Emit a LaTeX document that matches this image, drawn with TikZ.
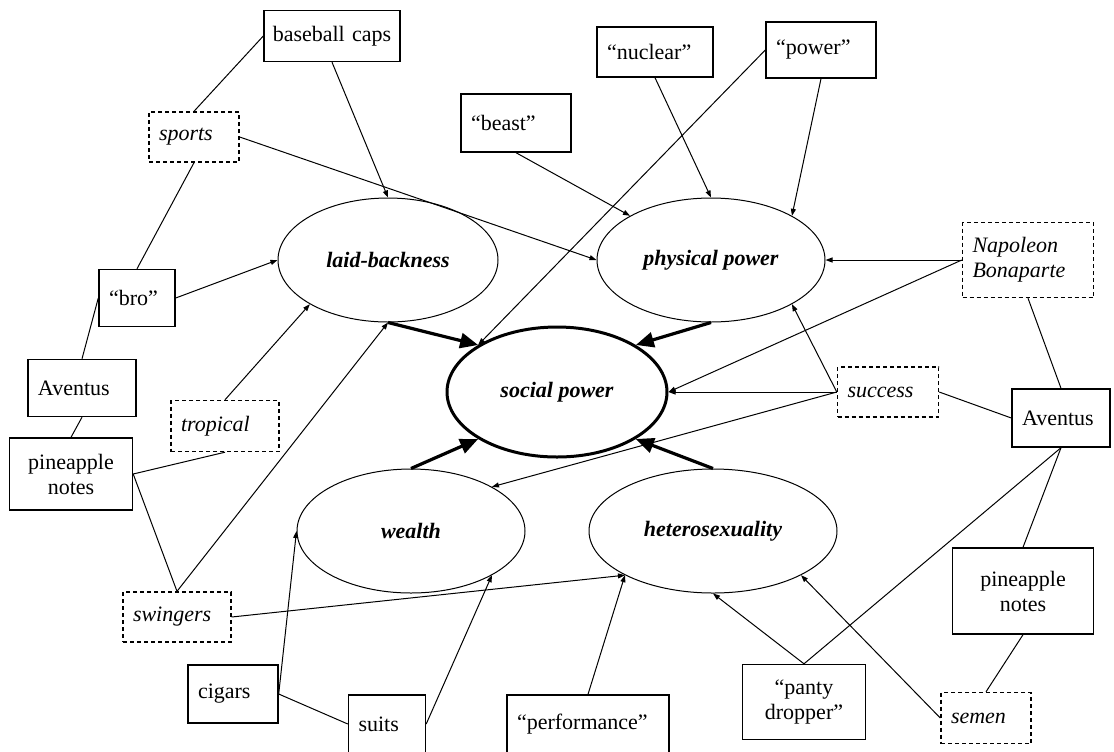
\documentclass[tikz,border=0pt]{standalone}
\usepackage{fontspec}
\setmainfont{Liberation Serif}
\usetikzlibrary{shapes.geometric,arrows.meta}
\begin{document}
\begin{tikzpicture}[x=0.5pt,y=-0.5pt,
  box/.style={draw,line width=0.7pt,inner xsep=5pt,inner ysep=0pt,align=left,font=\fontsize{11}{12.5}\selectfont},
  idea/.style={box,dash pattern=on 2pt off 1.5pt,font=\fontsize{11}{12.5}\selectfont\itshape},
  oval/.style={draw,ellipse,line width=0.5pt,inner sep=0pt,font=\fontsize{11}{13}\selectfont\bfseries\itshape},
  link/.style={line width=0.5pt},
  arr/.style={line width=0.5pt,-{Triangle[length=3.5pt,width=2.5pt]}},
  bigarr/.style={line width=1.6pt,-{Triangle[length=9pt,width=7.5pt]}}]
\useasboundingbox (0,0) rectangle (1114,751);
\node[oval,minimum width=110pt,minimum height=62pt] (laid) at (388,260) {laid-backness};
\node[oval,minimum width=114pt,minimum height=62pt] (phys) at (711,260) {physical power};
\node[oval,line width=1.5pt,minimum width=110pt,minimum height=65pt] (social) at (557,392) {social power};
\node[oval,minimum width=114pt,minimum height=62pt] (wealth) at (411,531) {wealth};
\node[oval,minimum width=124pt,minimum height=62pt] (hetero) at (713,531) {heterosexuality};
\node[box,align=center,inner xsep=2pt,text width=64pt,minimum height=25.5pt] (caps) at (332,36) {baseball caps};
\node[box,text width=48pt,minimum height=25pt] (nuclear) at (655,52) {“nuclear”};
\node[box,text width=45pt,minimum height=28pt] (powerw) at (821,50) {“power”};
\node[box,text width=45pt,minimum height=29pt] (beast) at (516,123) {“beast”};
\node[idea,text width=35pt,minimum height=25pt] (sports) at (194,137) {sports};
\node[idea,text width=55.5pt,minimum height=37.5pt] (napoleon) at (1028,260) {Napoleon\\Bonaparte};
\node[box,text width=28pt,minimum height=28.5pt] (bro) at (137,298) {“bro”};
\node[box,text width=44pt,minimum height=28.5pt] (aventusL) at (82,388) {Aventus};
\node[idea,text width=44pt,minimum height=25.5pt] (tropical) at (225,426) {tropical};
\node[box,align=center,text width=51.5pt,minimum height=36pt] (pineL) at (71,474) {pineapple\\notes};
\node[idea,text width=40.5pt,minimum height=25pt] (success) at (888,392) {success};
\node[box,text width=39pt,minimum height=29pt] (aventusR) at (1061,418) {Aventus};
\node[idea,text width=44pt,minimum height=25pt] (swingers) at (177,617) {swingers};
\node[box,align=center,text width=60.5pt,minimum height=43pt] (pineR) at (1023,591) {pineapple\\notes};
\node[box,text width=35pt,minimum height=29pt] (cigars) at (233,694) {cigars};
\node[box,text width=28.5pt,minimum height=29pt] (suits) at (387,724) {suits};
\node[box,text width=71pt,minimum height=29pt] (perf) at (588,724) {“performance”};
\node[box,align=center,text width=51.5pt,minimum height=37.5pt] (panty) at (804,702) {“panty\\dropper”};
\node[idea,text width=35pt,minimum height=25.5pt] (semen) at (986,718) {semen};
\draw[arr] (caps.south) -- (laid.north);
\draw[link] (caps.west) -- (sports.north);
\draw[link] (sports.south) -- (bro.north);
\draw[arr] (sports.east) -- (phys.west);
\draw[arr] (beast.south) -- (phys.north west);
\draw[arr] (nuclear.south) -- (phys.north);
\draw[arr] (powerw.south) -- (phys.north east);
\draw[arr] (powerw.west) -- (social.north west);
\draw[arr] (napoleon.west) -- (phys.east);
\draw[arr] (napoleon.west) -- (social.east);
\draw[link] (napoleon.south) -- (aventusR.north);
\draw[arr] (success.west) -- (phys.south east);
\draw[arr] (success.west) -- (social.east);
\draw[arr] (success.west) -- (wealth.north east);
\draw[link] (success.east) -- (aventusR.west);
\draw[link] (aventusR.south) -- (panty.north);
\draw[link] (aventusR.south) -- (pineR.north);
\draw[link] (pineR.south) -- (semen.north);
\draw[arr] (semen.west) -- (hetero.south east);
\draw[arr] (panty.north) -- (hetero.south);
\draw[arr] (perf.north) -- (hetero.south west);
\draw[arr] (swingers.east) -- (hetero.south west);
\draw[arr] (swingers.north) -- (laid.south);
\draw[link] (pineL.east) -- (swingers.north);
\draw[link] (pineL.east) -- (tropical.south);
\draw[arr] (tropical.north) -- (laid.south west);
\draw[arr] (bro.east) -- (laid.west);
\draw[link] (bro.west) -- (aventusL.north);
\draw[link] (aventusL.south) -- (pineL.north);
\draw[arr] (cigars.east) -- (wealth.west);
\draw[link] (cigars.east) -- (suits.west);
\draw[arr] (suits.east) -- (wealth.south east);
\draw[bigarr] (laid.south) -- (social.north west);
\draw[bigarr] (phys.south) -- (social.north east);
\draw[bigarr] (wealth.north) -- (social.south west);
\draw[bigarr] (hetero.north) -- (social.south east);
\end{tikzpicture}
\end{document}
